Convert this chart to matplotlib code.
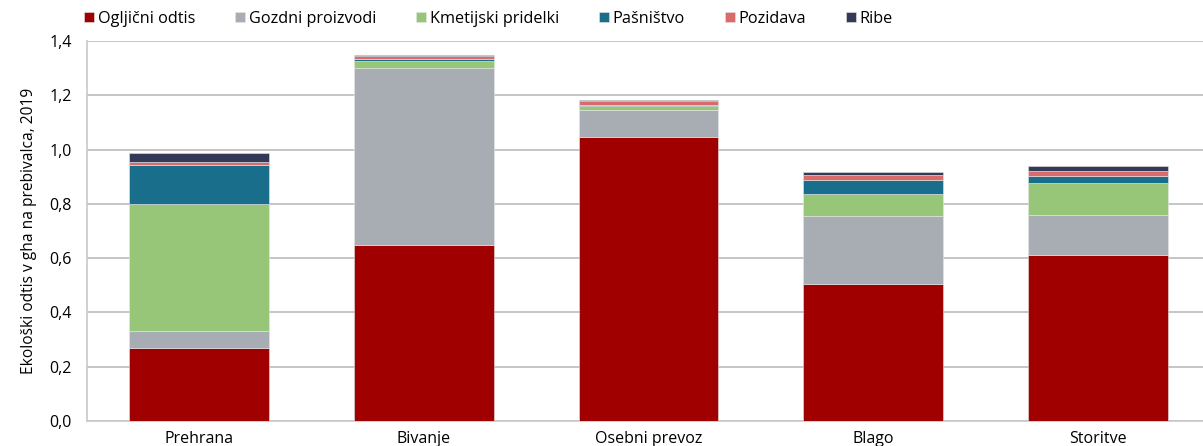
import matplotlib
matplotlib.use("Agg")
import matplotlib.pyplot as plt
from matplotlib.ticker import FuncFormatter, MultipleLocator
import numpy as np

plt.rcParams['font.family'] = ['Open Sans', 'DejaVu Sans']

categories = ["Prehrana", "Bivanje", "Osebni prevoz", "Blago", "Storitve"]

series_names = ["Ogljični odtis", "Gozdni proizvodi", "Kmetijski pridelki",
                "Pašništvo", "Pozidava", "Ribe"]

ogljicni = [0.270, 0.650, 1.045, 0.505, 0.610]
gozdni = [0.060, 0.650, 0.100, 0.250, 0.148]
kmetijski = [0.470, 0.025, 0.017, 0.083, 0.119]
pasnistvo = [0.143, 0.008, 0.004, 0.051, 0.024]
pozidava = [0.010, 0.011, 0.013, 0.018, 0.020]
ribe = [0.035, 0.006, 0.004, 0.011, 0.017]

colors = ["#a00000", "#a7adb3", "#98c679", "#186e8b", "#d96b6b", "#333a57"]

fig = plt.figure(figsize=(12.03, 4.46), dpi=100)
ax = fig.add_axes([87 / 1203, 25 / 446, 1123 / 1203, 380 / 446])

x = np.arange(len(categories))
bottom = np.zeros(len(categories))
for name, vals, col in zip(series_names,
                           [ogljicni, gozdni, kmetijski, pasnistvo, pozidava, ribe],
                           colors):
    vals = np.array(vals)
    ax.bar(x, vals, width=0.623, bottom=bottom, color=col, label=name,
           edgecolor="#e6e6e6", linewidth=0.4, zorder=3)
    bottom += vals

ax.set_xlim(-0.5, len(categories) - 0.5)
ax.set_ylim(0, 1.4)
ax.yaxis.set_major_locator(MultipleLocator(0.2))
ax.yaxis.set_major_formatter(FuncFormatter(lambda v, p: f"{v:.1f}".replace(".", ",")))
ax.grid(axis="y", color="#c0c0c0", linewidth=1.3, zorder=0)
ax.set_axisbelow(True)

for s in ["top", "right"]:
    ax.spines[s].set_visible(False)
for s in ["left", "bottom"]:
    ax.spines[s].set_color("#c8c8c8")
    ax.spines[s].set_linewidth(1.2)

ax.set_xticks(x)
ax.set_xticklabels(categories)
ax.tick_params(axis="both", length=0, labelsize=11.5, colors="#000000")
ax.tick_params(axis="x", pad=7)
ax.tick_params(axis="y", pad=11)

ax.set_ylabel("Ekološki odtis v gha na prebivalca, 2019", fontsize=11.2, labelpad=9)

leg = fig.legend(loc="center left", bbox_to_anchor=(84 / 1203, 1 - 19 / 446),
                 ncol=6, frameon=False, fontsize=11.7, handlelength=0.6,
                 handleheight=0.6, handletextpad=0.25, columnspacing=2.45,
                 borderaxespad=0, borderpad=0)

fig.savefig("out.png", dpi=100)
